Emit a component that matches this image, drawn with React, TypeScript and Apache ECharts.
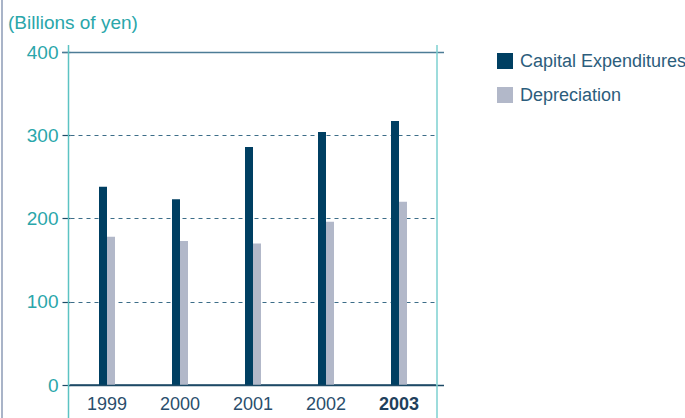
import React, { useEffect, useRef } from "react";
import * as echarts from "echarts";

const years = ["1999", "2000", "2001", "2002", "2003"];
const capitalExpenditures = [238, 223, 286, 304, 317];
const depreciation = [178, 173, 170, 196, 220];
const yTicks = [0, 100, 200, 300, 400];

const FONT = "'Liberation Sans', Arial, Helvetica, sans-serif";
const TEAL = "#2aa6aa";
const NAVY = "#003f62";
const GREY = "#b2b8c9";

export default function App() {
  const ref = useRef<HTMLDivElement>(null);
  useEffect(() => {
    if (!ref.current) return;
    const chart = echarts.init(ref.current, undefined, { renderer: "svg" });
    chart.setOption({
      animation: false,
      backgroundColor: "#ffffff",
      textStyle: { fontFamily: FONT },
      title: {
        text: "(Billions of yen)",
        left: 3,
        top: 8,
        textStyle: { color: TEAL, fontSize: 19, fontWeight: "normal", fontFamily: FONT },
      },
      legend: {
        orient: "vertical",
        left: 497,
        top: 52,
        padding: 0,
        itemWidth: 16,
        itemHeight: 16,
        itemGap: 16,
        icon: "rect",
        textStyle: { color: "#2c5d7c", fontSize: 18, fontFamily: FONT, padding: [0, 0, 0, 2] },
        data: ["Capital Expenditures", "Depreciation"],
      },
      grid: { left: 70.5, right: 249.5, top: 52, bottom: 33, containLabel: false },
      xAxis: {
        type: "category",
        data: years,
        axisLine: { lineStyle: { color: "#1d4a66", width: 1.5 } },
        axisTick: { show: false },
        axisLabel: {
          interval: 0,
          margin: 10,
          fontSize: 18,
          fontFamily: FONT,
          color: "#2a4e6c",
          formatter: (v: string) => (v === "2003" ? "{b|" + v + "}" : v),
          rich: { b: { fontWeight: "bold", fontSize: 18, fontFamily: FONT, color: "#1f3f5c" } },
        },
      },
      yAxis: {
        type: "value",
        min: yTicks[0],
        max: yTicks[yTicks.length - 1],
        interval: 100,
        axisLine: { show: false },
        axisTick: { show: true, length: 8, lineStyle: { color: "#1d4a66", width: 1.2 } },
        axisLabel: { margin: 12, fontSize: 19, fontFamily: FONT, color: TEAL },
        splitLine: {
          show: true,
          showMinLine: false,
          showMaxLine: false,
          lineStyle: { type: [4, 4], color: "#3c6d88", width: 1.2 },
        },
      },
      graphic: [
        { type: "line", shape: { x1: 2, y1: 0, x2: 2, y2: 418 }, style: { stroke: "#8c9bb6", lineWidth: 1.5 }, z: 10 },
        { type: "line", shape: { x1: 62, y1: 52.5, x2: 444, y2: 52.5 }, style: { stroke: "#4d7c96", lineWidth: 1.5 }, z: 10 },
        { type: "line", shape: { x1: 68, y1: 385.5, x2: 444, y2: 385.5 }, style: { stroke: "#1d4a66", lineWidth: 1.5 }, z: 10 },
        { type: "line", shape: { x1: 68.5, y1: 45, x2: 68.5, y2: 418 }, style: { stroke: "#5cc3c3", lineWidth: 1.5 }, z: 11 },
        { type: "line", shape: { x1: 437, y1: 45, x2: 437, y2: 418 }, style: { stroke: "#7dd0d0", lineWidth: 1.5 }, z: 11 },
      ],
      series: [
        {
          name: "Capital Expenditures",
          type: "bar",
          data: capitalExpenditures,
          barWidth: 8,
          barGap: "0%",
          itemStyle: { color: NAVY },
        },
        {
          name: "Depreciation",
          type: "bar",
          data: depreciation,
          barWidth: 8,
          barGap: "0%",
          itemStyle: { color: GREY },
        },
      ],
    });
    return () => chart.dispose();
  }, []);
  return (
    <div
      ref={ref}
      style={{ position: "fixed", left: 0, top: 0, width: 685, height: 418, background: "#fff" }}
    />
  );
}
